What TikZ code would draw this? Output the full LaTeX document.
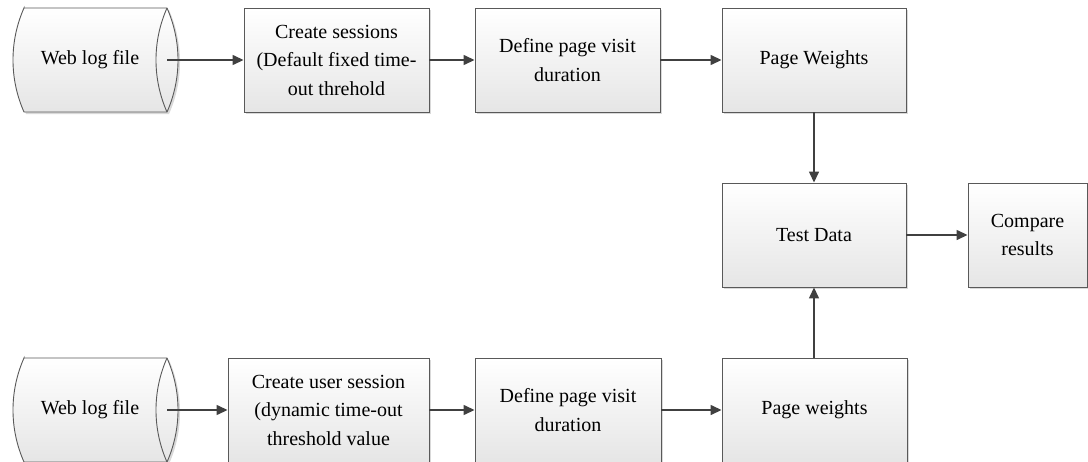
\documentclass[tikz,border=0pt]{standalone}
\usepackage{fontspec}
\setmainfont{Liberation Serif}
\usetikzlibrary{arrows.meta,shadows}
\definecolor{edgegray}{HTML}{595959}
\definecolor{linkgray}{HTML}{404040}
\tikzset{
  softshadow/.style={drop shadow={shadow xshift=2pt, shadow yshift=-2pt, fill=black, opacity=0.15}},
  procbox/.style={draw=edgegray, line width=0.9pt, top color=white, bottom color=black!10,
    minimum height=104pt, inner sep=0pt, align=center,
    font=\fontsize{20}{28.5}\selectfont, softshadow},
  logshape/.style={draw=edgegray, line width=0.9pt, top color=white, bottom color=black!10, softshadow},
  logrim/.style={draw=edgegray, line width=0.9pt},
  logtext/.style={font=\fontsize{20}{28.5}\selectfont, inner sep=0pt},
  arr/.style={draw=linkgray, line width=1.4pt, -{Triangle[length=11pt,width=10pt]}}
}
\begin{document}
\begin{tikzpicture}[x=1pt,y=-1pt]
\useasboundingbox (0,0) rectangle (1088,461);

% stored log files: horizontal drums, open end on the right
\foreach \dy in {0,350}{
  \begin{scope}[shift={(0,\dy)}]
    \path[logshape] (24,8) -- (167,8)
      arc[start angle=-23.9, end angle=23.9, radius=128.4]
      -- (24,112)
      arc[start angle=156.1, end angle=203.9, radius=128.4] -- cycle;
    \draw[logrim] (167,8) arc[start angle=203.9, end angle=156.1, radius=128.4];
  \end{scope}
}
\node[logtext] (log1) at (90,60) {Web log file};
\node[logtext] (log2) at (90,410) {Web log file};
\coordinate (log1out) at (167,60);
\coordinate (log2out) at (167,410);

% fixed time-out branch
\node[procbox, minimum width=185pt] (cs1) at (336.5,60) {Create sessions\\(Default fixed time-\\out threhold};
\node[procbox, minimum width=185pt] (dv1) at (567.5,60) {Define page visit\\duration};
\node[procbox, minimum width=184pt] (pw1) at (814,60) {Page Weights};

% evaluation
\node[procbox, minimum width=184pt] (td) at (814,235) {Test Data};
\node[procbox, minimum width=119pt] (cr) at (1027.5,235) {Compare\\results};

% dynamic time-out branch
\node[procbox, minimum width=201pt] (cs2) at (328.5,410) {Create user session\\(dynamic time-out\\threshold value};
\node[procbox, minimum width=186pt] (dv2) at (568,410) {Define page visit\\duration};
\node[procbox, minimum width=185pt] (pw2) at (814.5,410) {Page weights};

% connectors
\draw[arr] (log1out) -- (cs1.west);
\draw[arr] (cs1) -- (dv1);
\draw[arr] (dv1) -- (pw1);
\draw[arr] (pw1.south) -- (td.north);
\draw[arr] (td) -- (cr);
\draw[arr] (log2out) -- (cs2.west);
\draw[arr] (cs2) -- (dv2);
\draw[arr] (dv2) -- (pw2);
\draw[arr] (pw2.north -| td.south) -- (td.south);
\end{tikzpicture}
\end{document}
